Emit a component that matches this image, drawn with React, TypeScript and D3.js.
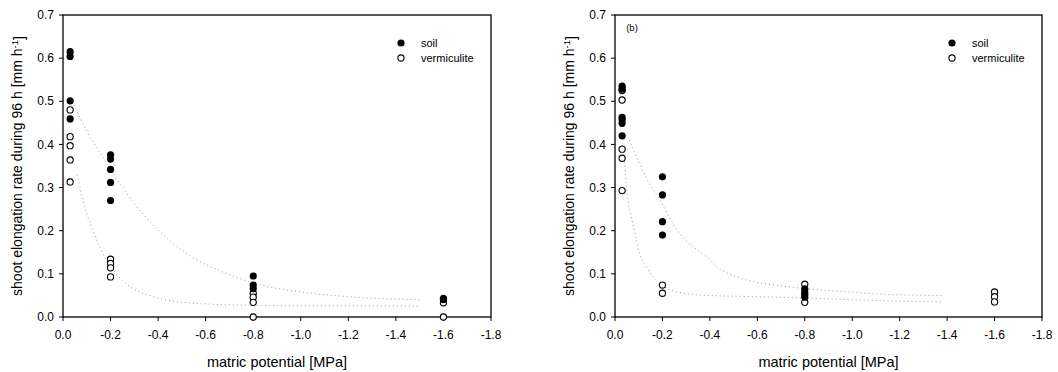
import React from "react";
import * as d3 from "d3";

// ---- data ----
const xTickValues = [0, -0.2, -0.4, -0.6, -0.8, -1.0, -1.2, -1.4, -1.6, -1.8];
const xTickLabels = ["0.0", "-0.2", "-0.4", "-0.6", "-0.8", "-1.0", "-1.2", "-1.4", "-1.6", "-1.8"];
const yTickValues = [0, 0.1, 0.2, 0.3, 0.4, 0.5, 0.6, 0.7];
const yTickLabels = ["0.0", "0.1", "0.2", "0.3", "0.4", "0.5", "0.6", "0.7"];

// panel (a)
const aSoilX = [-0.03, -0.03, -0.03, -0.03, -0.2, -0.2, -0.2, -0.2, -0.2, -0.8, -0.8, -0.8, -1.6, -1.6];
const aSoilY = [0.615, 0.604, 0.501, 0.459, 0.376, 0.366, 0.342, 0.312, 0.27, 0.095, 0.074, 0.066, 0.043, 0.04];
const aVermX = [-0.03, -0.03, -0.03, -0.03, -0.03, -0.2, -0.2, -0.2, -0.2, -0.8, -0.8, -0.8, -0.8, -1.6, -1.6];
const aVermY = [0.48, 0.418, 0.397, 0.364, 0.313, 0.134, 0.124, 0.114, 0.093, 0.055, 0.046, 0.034, 0.0, 0.033, 0.0];
const aSoilFitX = [-0.04, -0.1, -0.156, -0.25, -0.35, -0.5, -0.69, -0.85, -1.0, -1.2, -1.5];
const aSoilFitY = [0.5, 0.43, 0.38, 0.3, 0.23, 0.155, 0.1, 0.072, 0.058, 0.047, 0.04];
const aVermFitX = [-0.06, -0.08, -0.1, -0.126, -0.156, -0.21, -0.25, -0.4, -0.55, -0.8, -1.0, -1.2, -1.5];
const aVermFitY = [0.33, 0.28, 0.24, 0.2, 0.16, 0.11, 0.085, 0.044, 0.032, 0.027, 0.026, 0.026, 0.025];

// panel (b)
const bSoilX = [-0.03, -0.03, -0.03, -0.03, -0.03, -0.03, -0.2, -0.2, -0.2, -0.2, -0.8, -0.8, -0.8, -0.8];
const bSoilY = [0.535, 0.528, 0.463, 0.457, 0.449, 0.42, 0.325, 0.283, 0.221, 0.19, 0.065, 0.058, 0.052, 0.046];
const bVermX = [-0.03, -0.03, -0.03, -0.03, -0.03, -0.2, -0.2, -0.8, -0.8, -1.6, -1.6, -1.6];
const bVermY = [0.525, 0.503, 0.389, 0.368, 0.293, 0.074, 0.055, 0.076, 0.034, 0.058, 0.047, 0.035];
const bSoilFitX = [-0.06, -0.13, -0.19, -0.27, -0.39, -0.435, -0.515, -0.73, -0.94, -1.16, -1.38];
const bSoilFitY = [0.41, 0.325, 0.27, 0.195, 0.137, 0.114, 0.093, 0.07, 0.06, 0.052, 0.05];
const bVermFitX = [-0.04, -0.055, -0.07, -0.09, -0.11, -0.26, -0.39, -0.52, -0.8, -1.0, -1.26, -1.38];
const bVermFitY = [0.36, 0.27, 0.23, 0.18, 0.137, 0.058, 0.05, 0.048, 0.044, 0.04, 0.036, 0.035];

const seriesNames = ["soil", "vermiculite"];
const yTitle = "shoot elongation rate during 96 h [mm h";
const xTitle = "matric potential [MPa]";

const FONT = "'Liberation Sans', Arial, Helvetica, sans-serif";

type PanelProps = {
  left: number;
  right: number;
  top: number;
  bottom: number;
  soilX: number[];
  soilY: number[];
  vermX: number[];
  vermY: number[];
  soilFitX: number[];
  soilFitY: number[];
  vermFitX: number[];
  vermFitY: number[];
  label?: string;
};

function Panel(p: PanelProps) {
  const x = d3.scaleLinear().domain([0, -1.8]).range([p.left, p.right]);
  const y = d3.scaleLinear().domain([0, 0.7]).range([p.bottom, p.top]);
  const line = d3
    .line<[number, number]>()
    .x((d) => x(d[0]))
    .y((d) => y(d[1]))
    .curve(d3.curveMonotoneX);
  const soilFit = line(p.soilFitX.map((v, i) => [v, p.soilFitY[i]] as [number, number])) || "";
  const vermFit = line(p.vermFitX.map((v, i) => [v, p.vermFitY[i]] as [number, number])) || "";
  const r = 3.1;
  const lx = p.right - 90;
  const midX = (p.left + p.right) / 2;
  const midY = (p.top + p.bottom) / 2;
  return (
    <g>
      {/* fitted curves */}
      <path d={soilFit} fill="none" stroke="#9a9a9a" strokeWidth={1} strokeDasharray="1,3" />
      <path d={vermFit} fill="none" stroke="#9a9a9a" strokeWidth={1} strokeDasharray="1,3" />
      {/* frame */}
      <rect x={p.left} y={p.top} width={p.right - p.left} height={p.bottom - p.top} fill="none" stroke="#000" strokeWidth={1.3} />
      {/* y ticks */}
      {yTickValues.map((v, i) => (
        <g key={"y" + i}>
          <line x1={p.left - 4} x2={p.left} y1={y(v)} y2={y(v)} stroke="#000" strokeWidth={1} />
          <text x={p.left - 9} y={y(v)} dy="0.35em" textAnchor="end" fontSize={12} fontFamily={FONT} fill="#000">
            {yTickLabels[i]}
          </text>
        </g>
      ))}
      {/* x ticks */}
      {xTickValues.map((v, i) => (
        <g key={"x" + i}>
          <line x1={x(v)} x2={x(v)} y1={p.bottom} y2={p.bottom + 4} stroke="#000" strokeWidth={1} />
          <text x={x(v)} y={p.bottom + 18} dy="0.35em" textAnchor="middle" fontSize={12} fontFamily={FONT} fill="#000">
            {xTickLabels[i]}
          </text>
        </g>
      ))}
      {/* points */}
      {p.vermX.map((v, i) => (
        <circle key={"v" + i} cx={x(v)} cy={y(p.vermY[i])} r={r} fill="#fff" stroke="#000" strokeWidth={1.1} />
      ))}
      {p.soilX.map((v, i) => (
        <circle key={"s" + i} cx={x(v)} cy={y(p.soilY[i])} r={r + 0.5} fill="#000" />
      ))}
      {/* legend */}
      <circle cx={lx} cy={43} r={r + 0.5} fill="#000" />
      <text x={lx + 20} y={43} dy="0.35em" fontSize={11} fontFamily={FONT} fill="#000">
        {seriesNames[0]}
      </text>
      <circle cx={lx} cy={58} r={r} fill="#fff" stroke="#000" strokeWidth={1.1} />
      <text x={lx + 20} y={58} dy="0.35em" fontSize={11} fontFamily={FONT} fill="#000">
        {seriesNames[1]}
      </text>
      {p.label ? (
        <text x={p.left + 17} y={28} dy="0.35em" textAnchor="middle" fontSize={9.5} fontFamily={FONT} fill="#000">
          {p.label}
        </text>
      ) : null}
      {/* axis titles */}
      <text x={midX} y={362} dy="0.35em" textAnchor="middle" fontSize={14.5} fontFamily={FONT} fill="#000">
        {xTitle}
      </text>
      <text
        transform={`translate(${p.left - 46},${midY}) rotate(-90)`}
        textAnchor="middle"
        dy="0.35em"
        fontSize={14}
        fontFamily={FONT}
        fill="#000"
      >
        {yTitle}
        <tspan dy="-0.45em" fontSize={9.5}>-1</tspan>
        <tspan dy="0.45em">]</tspan>
      </text>
    </g>
  );
}

export default function App() {
  return (
    <svg
      width={1058}
      height={372}
      style={{ position: "absolute", left: 0, top: 0, background: "#fff" }}
    >
      <rect x={0} y={0} width={1058} height={372} fill="#fff" />
      <Panel
        left={63}
        right={491}
        top={15}
        bottom={317}
        soilX={aSoilX}
        soilY={aSoilY}
        vermX={aVermX}
        vermY={aVermY}
        soilFitX={aSoilFitX}
        soilFitY={aSoilFitY}
        vermFitX={aVermFitX}
        vermFitY={aVermFitY}
      />
      <Panel
        left={615}
        right={1042}
        top={15}
        bottom={317}
        soilX={bSoilX}
        soilY={bSoilY}
        vermX={bVermX}
        vermY={bVermY}
        soilFitX={bSoilFitX}
        soilFitY={bSoilFitY}
        vermFitX={bVermFitX}
        vermFitY={bVermFitY}
        label="(b)"
      />
    </svg>
  );
}
